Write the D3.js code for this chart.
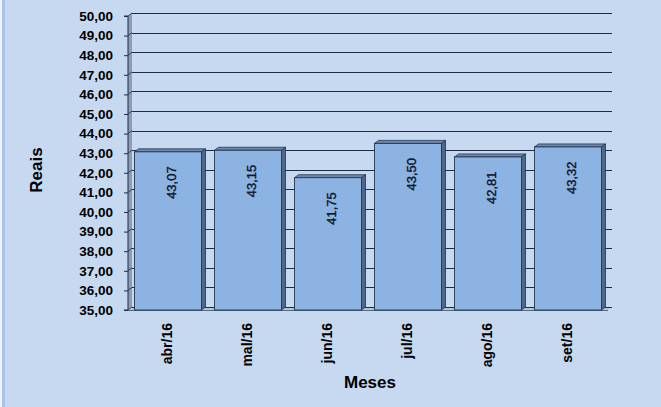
<!DOCTYPE html>
<html><head><meta charset="utf-8">
<script src="https://cdn.jsdelivr.net/npm/d3@7"></script>
<style>html,body{margin:0;padding:0;background:#C6D9F1;}svg{display:block;font-family:"Liberation Sans",Arial,sans-serif;}</style>
</head><body>
<script>
const months = ["abr/16","mal/16","jun/16","jul/16","ago/16","set/16"];
const values = [43.07,43.15,41.75,43.50,42.81,43.32];
const yTicks = [35,36,37,38,39,40,41,42,43,44,45,46,47,48,49,50];
const yTitle = "Reais";
const xTitle = "Meses";

const W = 661, H = 407;
const svg = d3.select("body").append("svg").attr("width", W).attr("height", H);
svg.append("rect").attr("width", W).attr("height", H).attr("fill", "#C6D9F1");
svg.append("rect").attr("x", 0).attr("y", 0).attr("width", 2).attr("height", H).attr("fill", "#EEF3FB");
svg.append("rect").attr("x", 2).attr("y", 0).attr("width", 3).attr("height", H).attr("fill", "#A9C3EA");

const x0 = 128, x1 = 608, dx = 4, dy = -3;
const y = d3.scaleLinear().domain([35, 50]).range([310, 16]);
const x = d3.scaleBand().domain(months).range([x0, x1]).paddingInner(0.1625).paddingOuter(0.08125);

// left wall
svg.append("path")
  .attr("d", `M${x0},${y(50)} L${x0+dx},${y(50)+dy} L${x0+dx},${y(35)+dy} L${x0},${y(35)} Z`)
  .attr("fill", "#8E9DB2").attr("stroke", "none");
// floor
svg.append("path")
  .attr("d", `M${x0},${y(35)} L${x0+dx},${y(35)+dy} L${x1+dx},${y(35)+dy} L${x1},${y(35)} Z`)
  .attr("fill", "#B4C6DE");

// gridlines on back wall
svg.append("g").selectAll("line").data(yTicks).join("line")
  .attr("x1", x0 + dx).attr("x2", x1 + dx)
  .attr("y1", d => Math.round(y(d) + dy) + 0.5).attr("y2", d => Math.round(y(d) + dy) + 0.5)
  .attr("stroke", "#1E2C46").attr("stroke-width", 1.1);
svg.append("g").selectAll("line").data(yTicks).join("line")
  .attr("x1", x0).attr("x2", x0 + dx)
  .attr("y1", d => y(d)).attr("y2", d => y(d) + dy)
  .attr("stroke", "#1E2C46").attr("stroke-width", 0.8);

// axis
const yAxis = d3.axisLeft(y).tickValues(yTicks).tickSize(4).tickPadding(11)
  .tickFormat(d => d3.format(".2f")(d).replace(".", ","));
const ga = svg.append("g").attr("transform", `translate(${x0},0)`).call(yAxis);
ga.attr("font-family", null).attr("font-size", null);
ga.select(".domain").attr("stroke", "#1E2C46").attr("d", `M-4,${y(50)}H0V${y(35)}H-4`);
ga.selectAll(".tick line").attr("stroke", "#1E2C46");
ga.selectAll("text").attr("font-size", "13.5px").attr("font-weight", "bold").attr("fill", "#000");
svg.append("line").attr("x1", x0).attr("x2", x1).attr("y1", y(35) + 0.5).attr("y2", y(35) + 0.5)
  .attr("stroke", "#3A4C68").attr("stroke-width", 0.8);

// bars
const data = months.map((m, i) => ({ m, v: values[i] }));
const bw = x.bandwidth();
const bars = svg.append("g").selectAll("g").data(data).join("g");
bars.append("path").attr("d", d => {
  const L = x(d.m), R = L + bw, T = y(d.v);
  return `M${L},${T} L${L+dx},${T+dy} L${R+dx},${T+dy} L${R},${T} Z`;
}).attr("fill", "#6E89AE").attr("stroke", "#23354F").attr("stroke-width", 0.8);
bars.append("path").attr("d", d => {
  const R = x(d.m) + bw, T = y(d.v), B = y(35);
  return `M${R},${T} L${R+dx},${T+dy} L${R+dx},${B+dy} L${R},${B} Z`;
}).attr("fill", "#4E6889").attr("stroke", "#23354F").attr("stroke-width", 0.8);
bars.append("rect")
  .attr("x", d => x(d.m)).attr("y", d => y(d.v))
  .attr("width", bw).attr("height", d => y(35) - y(d.v))
  .attr("fill", "#8DB3E2").attr("stroke", "#23354F").attr("stroke-width", 0.9);

// value labels
bars.append("text")
  .attr("transform", d => `translate(${x(d.m) + bw / 2 + 3 + 4.5},${y(d.v) + 14.5}) rotate(-90)`)
  .attr("text-anchor", "end")
  .attr("font-size", "13px").attr("fill", "#0A1528")
  .attr("stroke", "#0A1528").attr("stroke-width", 0.35)
  .text(d => d3.format(".2f")(d.v).replace(".", ","));

// x labels
svg.append("g").selectAll("text").data(months).join("text")
  .attr("transform", d => `translate(${x(d) + bw / 2 - 1 + 5},323) rotate(-90)`)
  .attr("text-anchor", "end")
  .attr("font-size", "14px").attr("font-weight", "bold").attr("fill", "#000")
  .text(d => d);

// titles
svg.append("text").attr("x", 370).attr("y", 388).attr("text-anchor", "middle")
  .attr("font-size", "17px").attr("font-weight", "bold").text(xTitle);
svg.append("text").attr("transform", "translate(42,170) rotate(-90)").attr("text-anchor", "middle")
  .attr("font-size", "17px").attr("font-weight", "bold").text(yTitle);
</script>
</body></html>
